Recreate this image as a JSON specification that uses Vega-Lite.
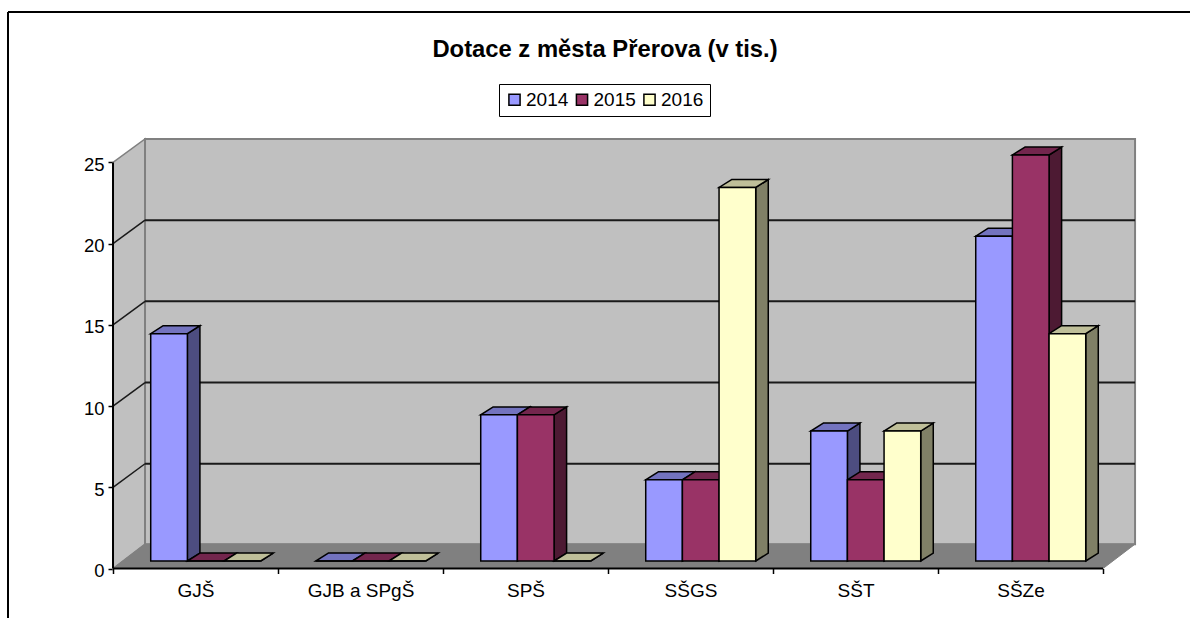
{
"$schema":"https://vega.github.io/schema/vega-lite/v6.json",
"width":1182,"height":606,
"autosize":{"type":"none"},
"padding":{"left":8,"top":12,"right":0,"bottom":0},
"background":"white",
"title":{"text":"Dotace z města Přerova (v tis.)","font":"Liberation Sans","fontSize":23.8,"fontWeight":"bold","color":"black","anchor":"middle","frame":"group","offset":-70,"dx":6,"baseline":"alphabetic"},
"config":{"view":{"stroke":null},"font":"Liberation Sans"},
"datasets":{
"bars":[
{"school":"GJŠ","year":"2014","value":14},{"school":"GJŠ","year":"2015","value":0},{"school":"GJŠ","year":"2016","value":0},
{"school":"GJB a SPgŠ","year":"2014","value":0},{"school":"GJB a SPgŠ","year":"2015","value":0},{"school":"GJB a SPgŠ","year":"2016","value":0},
{"school":"SPŠ","year":"2014","value":9},{"school":"SPŠ","year":"2015","value":9},{"school":"SPŠ","year":"2016","value":0},
{"school":"SŠGS","year":"2014","value":5},{"school":"SŠGS","year":"2015","value":5},{"school":"SŠGS","year":"2016","value":23},
{"school":"SŠT","year":"2014","value":8},{"school":"SŠT","year":"2015","value":5},{"school":"SŠT","year":"2016","value":8},
{"school":"SŠZe","year":"2014","value":20},{"school":"SŠZe","year":"2015","value":25},{"school":"SŠZe","year":"2016","value":14}
],
"grid":[{"v":5},{"v":10},{"v":15},{"v":20}],
"depth":[{"s":0},{"s":1}],
"one":[{"a":0}]
},
"layer":[
{"data":{"name":"depth"},
 "transform":[{"calculate":"datum.s*0.194","as":"px"},{"calculate":"datum.s*1.5","as":"py"},{"calculate":"25+datum.s*1.45","as":"py2"}],
 "mark":{"type":"area","fill":"#C0C0C0","stroke":"#808080","strokeWidth":1.5},
 "encoding":{
  "x":{"field":"px","type":"quantitative","scale":{"domain":[-0.6364,6.527],"nice":false,"zero":false},"axis":null},
  "y":{"field":"py","type":"quantitative","scale":{"domain":[-3.048,34.267],"nice":false,"zero":false},"axis":null},
  "y2":{"field":"py2"}}},
{"data":{"name":"one"},
 "transform":[{"calculate":"0.194","as":"x0"},{"calculate":"6.194","as":"x1"},{"calculate":"1.5","as":"y0"},{"calculate":"26.45","as":"y1"}],
 "mark":{"type":"rect","fill":"#C0C0C0","stroke":"#808080","strokeWidth":2},
 "encoding":{"x":{"field":"x0","type":"quantitative","axis":null},"x2":{"field":"x1"},"y":{"field":"y0","type":"quantitative","axis":null},"y2":{"field":"y1"}}},
{"data":{"name":"depth"},
 "transform":[{"calculate":"datum.s*0.194","as":"px"},{"calculate":"6+datum.s*0.194","as":"px2"},{"calculate":"datum.s*1.5","as":"py"}],
 "mark":{"type":"area","orient":"horizontal","fill":"#808080","stroke":"#808080","strokeWidth":1},
 "encoding":{"y":{"field":"py","type":"quantitative","axis":null},"x":{"field":"px","type":"quantitative","axis":null},"x2":{"field":"px2"}}},
{"data":{"name":"grid"},
 "transform":[{"calculate":"datum.v+1.45","as":"vb"},{"calculate":"0","as":"x0"},{"calculate":"0.194","as":"x1"}],
 "mark":{"type":"rule","color":"#1a1a1a","strokeWidth":1.5},
 "encoding":{"x":{"field":"x0","type":"quantitative","axis":null},"x2":{"field":"x1"},"y":{"field":"v","type":"quantitative","axis":null},"y2":{"field":"vb"}}},
{"data":{"name":"grid"},
 "transform":[{"calculate":"datum.v+1.45","as":"vb"},{"calculate":"0.194","as":"x0"},{"calculate":"6.194","as":"x1"}],
 "mark":{"type":"rule","color":"#1a1a1a","strokeWidth":2},
 "encoding":{"x":{"field":"x0","type":"quantitative","axis":null},"x2":{"field":"x1"},"y":{"field":"vb","type":"quantitative","axis":null}}},
{"data":{"name":"bars"},
 "transform":[
  {"calculate":"indexof(['GJŠ','GJB a SPgŠ','SPŠ','SŠGS','SŠT','SŠZe'],datum.school)","as":"i"},
  {"calculate":"toNumber(datum.year)-2014","as":"j"},
  {"calculate":"datum.i+0.2285+(datum.j+1)*0.2222","as":"x1"},
  {"calculate":"[0,1]","as":"s"},{"flatten":["s"]},
  {"calculate":"datum.x1+datum.s*0.076","as":"sx"},
  {"calculate":"0.462+datum.s*0.49","as":"sy"},
  {"calculate":"datum.value+0.462+datum.s*0.49","as":"sy2"},
  {"calculate":"datum.year+' side'","as":"key"},
  {"calculate":"datum.school+datum.year","as":"id"}],
 "mark":{"type":"area","stroke":"black","strokeWidth":1.5,"strokeJoin":"miter"},
 "encoding":{"x":{"field":"sx","type":"quantitative","axis":null},"y":{"field":"sy","type":"quantitative","axis":null},"y2":{"field":"sy2"},
  "detail":{"field":"id"},
  "fill":{"field":"key","type":"nominal","scale":{"domain":["2014","2015","2016","2014 top","2015 top","2016 top","2014 side","2015 side","2016 side"],"range":["#9999FF","#993366","#FFFFCC","#7373BF","#73264D","#BFBF99","#4D4D80","#4D1A33","#808066"]},
   "legend":{"values":["2014","2015","2016"],"title":null,"orient":"none","legendX":491,"legendY":72,"direction":"horizontal","columns":3,"symbolType":"square","symbolSize":125,"symbolStrokeColor":"black","symbolStrokeWidth":1.5,"labelFont":"Liberation Sans","labelFontSize":19,"labelColor":"black","labelOffset":2,"columnPadding":3.5,"strokeColor":"black","padding":6,"fillColor":"white"}}}},
{"data":{"name":"bars"},
 "transform":[
  {"calculate":"indexof(['GJŠ','GJB a SPgŠ','SPŠ','SŠGS','SŠT','SŠZe'],datum.school)","as":"i"},
  {"calculate":"toNumber(datum.year)-2014","as":"j"},
  {"calculate":"datum.i+0.2285+datum.j*0.2222","as":"x0"},
  {"calculate":"[0,1]","as":"s"},{"flatten":["s"]},
  {"calculate":"datum.x0+datum.s*0.076","as":"tx"},
  {"calculate":"datum.x0+0.2222+datum.s*0.076","as":"tx2"},
  {"calculate":"datum.value+0.462+datum.s*0.49","as":"ty"},
  {"calculate":"datum.year+' top'","as":"key"},
  {"calculate":"datum.school+datum.year","as":"id"}],
 "mark":{"type":"area","orient":"horizontal","stroke":"black","strokeWidth":1.5,"strokeJoin":"miter"},
 "encoding":{"y":{"field":"ty","type":"quantitative","axis":null},"x":{"field":"tx","type":"quantitative","axis":null},"x2":{"field":"tx2"},
  "detail":{"field":"id"},
  "fill":{"field":"key","type":"nominal"}}},
{"data":{"name":"bars"},
 "transform":[
  {"calculate":"indexof(['GJŠ','GJB a SPgŠ','SPŠ','SŠGS','SŠT','SŠZe'],datum.school)","as":"i"},
  {"calculate":"toNumber(datum.year)-2014","as":"j"},
  {"calculate":"datum.i+0.2285+datum.j*0.2222","as":"x0"},
  {"calculate":"datum.x0+0.2222","as":"x1"},
  {"calculate":"datum.value+0.462","as":"top"},
  {"calculate":"0.462","as":"base"},
  {"calculate":"datum.year","as":"key"}],
 "mark":{"type":"rect","stroke":"black","strokeWidth":1.5},
 "encoding":{"x":{"field":"x0","type":"quantitative","axis":null},"x2":{"field":"x1"},"y":{"field":"base","type":"quantitative","axis":null},"y2":{"field":"top"},
  "fill":{"field":"key","type":"nominal"}}},
{"data":{"name":"one"},
 "transform":[{"calculate":"0","as":"x0"},{"calculate":"0","as":"y0"},{"calculate":"25","as":"y1"}],
 "mark":{"type":"rule","color":"black","strokeWidth":2},
 "encoding":{"x":{"field":"x0","type":"quantitative","axis":{"values":[0,1,2,3,4,5,6],"orient":"bottom","offset":-49.5,"domain":false,"grid":false,"labels":false,"title":null,"tickColor":"black","tickWidth":1.5,"tickSize":5}},
  "y":{"field":"y0","type":"quantitative","axis":{"values":[0,5,10,15,20,25],"orient":"left","offset":-105,"domain":false,"grid":false,"title":null,"tickColor":"black","tickWidth":1.5,"tickSize":5,"labelFont":"Liberation Sans","labelFontSize":18.5,"labelColor":"black","labelPadding":4,"labelOffset":2}},
  "y2":{"field":"y1"}}},
{"data":{"name":"one"},
 "transform":[{"calculate":"0","as":"x0"},{"calculate":"6","as":"x1"},{"calculate":"0","as":"y0"}],
 "mark":{"type":"rule","color":"black","strokeWidth":2},
 "encoding":{"x":{"field":"x0","type":"quantitative","axis":{"values":[0.5,1.5,2.5,3.5,4.5,5.5],"orient":"bottom","offset":-49.5,"domain":false,"grid":false,"ticks":false,"title":null,"labelExpr":"['GJŠ','GJB a SPgŠ','SPŠ','SŠGS','SŠT','SŠZe'][floor(datum.value)]","labelFont":"Liberation Sans","labelFontSize":19,"labelColor":"black","labelPadding":13}},
  "x2":{"field":"x1"},"y":{"field":"y0","type":"quantitative","axis":null}}},
{"data":{"name":"one"},
 "transform":[{"calculate":"-0.6364","as":"x0"},{"calculate":"-3.048","as":"y0"},{"calculate":"34.267","as":"y1"}],
 "mark":{"type":"rule","color":"black","strokeWidth":2},
 "encoding":{"x":{"field":"x0","type":"quantitative","axis":null},"y":{"field":"y0","type":"quantitative","axis":null},"y2":{"field":"y1"}}},
{"data":{"name":"one"},
 "transform":[{"calculate":"-0.6364","as":"x0"},{"calculate":"6.527","as":"x1"},{"calculate":"34.267","as":"y0"}],
 "mark":{"type":"rule","color":"black","strokeWidth":2},
 "encoding":{"x":{"field":"x0","type":"quantitative","axis":null},"x2":{"field":"x1"},"y":{"field":"y0","type":"quantitative","axis":null}}}
],
"resolve":{"axis":{"x":"independent","y":"independent"}}
}
